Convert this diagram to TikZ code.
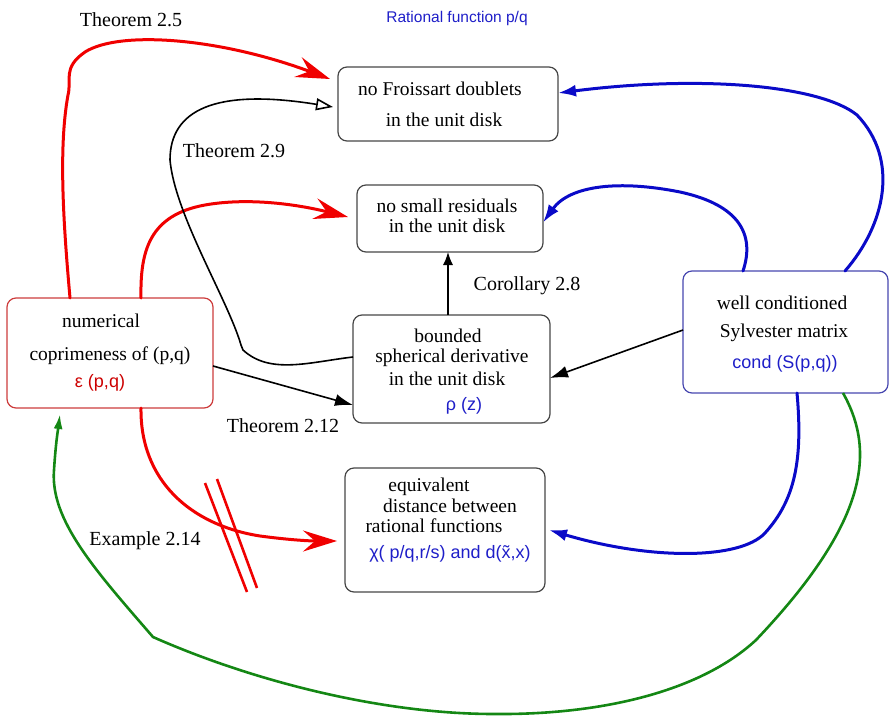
\documentclass[tikz,border=0pt]{standalone}
\usepackage{fontspec}
\setmainfont{Liberation Serif}
\newfontfamily\sansf{Liberation Sans}
\usetikzlibrary{arrows.meta}
\definecolor{myred}{RGB}{240,0,0}
\definecolor{myblue}{RGB}{10,10,200}
\definecolor{txtblue}{RGB}{30,30,200}
\definecolor{mygreen}{RGB}{20,135,20}
\definecolor{boxgray}{RGB}{70,70,70}
\definecolor{redbox}{RGB}{205,60,60}
\definecolor{bluebox}{RGB}{70,70,175}
\begin{document}
\begin{tikzpicture}[x=1pt,y=-1pt,
  box/.style={draw=boxgray, line width=1.2pt, rounded corners=9pt, inner sep=0pt, outer sep=0pt},
  txt/.style={anchor=base, inner sep=0pt, font=\fontsize{19.5}{22}\selectfont},
  btxt/.style={anchor=base, inner sep=0pt, text=txtblue, font=\sansf\fontsize{18}{21}\selectfont},
  lbl/.style={anchor=base, inner sep=0pt, font=\fontsize{20}{24}\selectfont},
  redarr/.style={draw=myred, line width=3pt, line cap=round, -{Stealth[length=34pt,width=21pt,inset=12pt]}},
  bluearr/.style={draw=myblue, line width=3pt, line cap=round, -{Latex[length=18pt,width=12pt]}},
  blackarr/.style={draw=black, line width=1.6pt, -{Latex[length=18pt,width=12pt]}},
  greenarr/.style={draw=mygreen, line width=2.6pt, -{Latex[length=15pt,width=9pt]}},
  strike/.style={draw=myred, line width=2.6pt}
]
\useasboundingbox (0,0) rectangle (891,717);

% boxes
\node[box, minimum width=220pt, minimum height=74pt] (froiss) at (448,104) {};
\node[box, minimum width=186pt, minimum height=67pt] (resid) at (450,218.5) {};
\node[box, minimum width=197pt, minimum height=108pt] (bounded) at (451.5,369) {};
\node[box, minimum width=200pt, minimum height=124pt] (equiv) at (445,530) {};
\node[box, draw=redbox, minimum width=206pt, minimum height=110pt] (numer) at (110,353) {};
\node[box, draw=bluebox, minimum width=205pt, minimum height=122pt] (well) at (785.5,332) {};

% box texts
\node[txt] (f1) at (440,95) {no Froissart doublets};
\node[txt] (f2) at (444,126) {in the unit disk};
\node[txt] (r1) at (447,212) {no small residuals};
\node[txt] (r2) at (447,232) {in the unit disk};
\node[txt] (b1) at (448,342) {bounded};
\node[txt] (b2) at (452,362) {spherical derivative};
\node[txt] (b3) at (447,385) {in the unit disk};
\node[btxt] (b4) at (464,410) {ρ (z)};
\node[txt] (e1) at (429,491) {equivalent};
\node[txt] (e2) at (450,512) {distance between};
\node[txt] (e3) at (434,532) {rational functions};
\node[btxt] (e4) at (450,558) {χ( p/q,r/s) and d(x̃,x)};
\node[txt] (n1) at (101,327) {numerical};
\node[txt] (n2) at (110,360) {coprimeness of (p,q)};
\node[btxt, text=myred!85!black] (n3) at (100,387) {ε (p,q)};
\node[txt] (w1) at (782,309) {well conditioned};
\node[txt] (w2) at (784,337) {Sylvester matrix};
\node[btxt] (w3) at (785,368) {cond (S(p,q))};

% labels
\node[lbl] (lT25) at (131,27) {Theorem 2.5};
\node[btxt, font=\sansf\fontsize{15.5}{18}\selectfont] (title) at (457,23) {Rational function p/q};
\node[lbl] (lT29) at (234,157) {Theorem 2.9};
\node[lbl] (lC28) at (527,290) {Corollary 2.8};
\node[lbl] (lT212) at (283,432) {Theorem 2.12};
\node[lbl] (lE214) at (145,545) {Example 2.14};

% red connectors
\draw[redarr] ([xshift=63pt]numer.north west) .. controls (64,230) and (58,150) .. (68,95)
   .. controls (72,80) and (62,68) .. (85,52)
   .. controls (120,30) and (220,38) .. ([xshift=-8pt,yshift=-12pt]froiss.north west);
\draw[redarr] ([xshift=134pt]numer.north west) .. controls (140,250) and (150,215) .. (205,205)
   .. controls (250,197) and (300,205) .. ([xshift=-9pt,yshift=-32pt]resid.north west);
\draw[redarr] ([xshift=134pt]numer.south west) .. controls (140,480) and (190,525) .. (260,536)
   .. controls (290,540) and (310,541) .. ([xshift=-8pt,yshift=-11pt]equiv.west);
\coordinate (s1a) at (205,483);
\coordinate (s1b) at (247,592);
\coordinate (s2a) at (217,479);
\coordinate (s2b) at (257,588);
\draw[strike] (s1a) -- (s1b);
\draw[strike] (s2a) -- (s2b);

% black connectors
\draw[draw=black, line width=1.6pt, -{Triangle[open,length=17pt,width=12pt]}]
   ([yshift=12pt]bounded.west) .. controls (310,362) and (270,375) .. (243,350) -- (241,345)
   .. controls (228,300) and (175,215) .. (170,160)
   .. controls (170,110) and (215,88) .. ([xshift=-5pt,yshift=-40pt]froiss.north west);
\draw[blackarr] ([yshift=-13pt]numer.east) -- ([yshift=-36pt]bounded.west);
\draw[draw=black, line width=1.4pt, -{Latex[length=13pt,width=10pt]}] ([xshift=-3.5pt]bounded.north) -- ([xshift=-2pt]resid.south);
\draw[blackarr] ([yshift=2pt]well.west) -- ([yshift=-9pt]bounded.east);

% blue connectors
\draw[bluearr] ([xshift=162pt]well.north west) .. controls (885,225) and (900,160) .. (857,115)
   .. controls (820,85) and (700,75) .. ([yshift=11pt]froiss.east);
\draw[bluearr] ([xshift=60pt]well.north west) .. controls (755,235) and (740,205) .. (680,192)
   .. controls (620,180) and (570,185) .. ([yshift=-4pt]resid.east);
\draw[bluearr] ([xshift=114pt]well.south west) .. controls (803,460) and (795,500) .. (765,533)
   .. controls (740,560) and (650,560) .. ([xshift=4pt]equiv.east);

% green connector
\draw[greenarr] ([xshift=160pt]well.south west) .. controls (875,450) and (870,520) .. (756,640)
   .. controls (700,692) and (600,715) .. (494,714)
   .. controls (380,714) and (250,680) .. (153,637)
   .. controls (95,570) and (50,520) .. (54,470)
   .. controls (56,440) and (58,430) .. ([xshift=53pt,yshift=-6pt]numer.south west);
\end{tikzpicture}
\end{document}
